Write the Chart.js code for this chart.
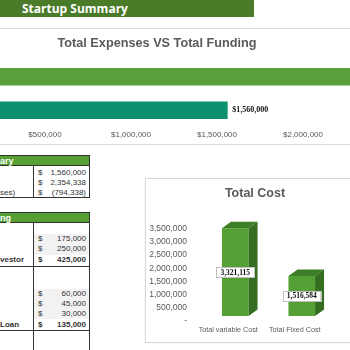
<!DOCTYPE html>
<html>
<head>
<meta charset="utf-8">
<script src="https://cdn.jsdelivr.net/npm/chart.js@4.4.1/dist/chart.umd.min.js"></script>
<style>
  html, body { margin:0; padding:0; width:350px; height:350px; overflow:hidden; background:#fff; font-family:"Liberation Sans", Arial, sans-serif; }
  .abs { position:absolute; }
  #banner { left:0; top:0; width:254px; height:17px; background:#4a7b29; color:#fff; font:bold 12px "Open Sans", sans-serif; line-height:17px; }
  #banner span { position:absolute; left:22px; top:0; }
  #box1 { left:-5px; top:28px; width:360px; height:115px; border:1px solid #d9d9d9; }
  #c1wrap { left:-41px; top:28px; width:430px; height:116px; }
  #box2 { left:145px; top:178px; width:220px; height:163px; border:1px solid #d9d9d9; box-shadow:0 0 2px rgba(0,0,0,0.08); background:#fff; }
  #c2wrap { left:146px; top:179px; width:220px; height:163px; }
  .ctitle { color:#595959; font:bold 12.7px "Liberation Sans", Arial, sans-serif; text-align:center; white-space:nowrap; }
  .hdr { background:#56a033; color:#fff; font-weight:bold; font-size:9px; line-height:11px; height:11px; border:1px solid #333; border-left:none; box-sizing:border-box; }
  .cell { font-size:8px; line-height:10px; height:10px; color:#333; white-space:nowrap; }
  .vl { background:#333; width:1px; }
  .hl { background:#333; height:1px; }
  .gray { background:#f2f2f2; }
</style>
</head>
<body>
<div id="banner" class="abs"><span>Startup Summary</span></div>
<div id="box1" class="abs"></div>
<div id="c1wrap" class="abs"><canvas id="c1" width="430" height="116"></canvas></div>
<div class="abs ctitle" style="left:57px;width:200px;top:35px;line-height:16px;">Total Expenses VS Total Funding</div>

<!-- Table 1 -->
<div class="abs hdr" style="left:0;top:155px;width:90px;"><span style="position:absolute;left:0;">ary</span></div>
<div class="abs vl" style="left:33px;top:166px;height:31px;"></div>
<div class="abs vl" style="left:89px;top:166px;height:31px;"></div>
<div class="abs hl" style="left:0;top:197px;width:90px;"></div>
<div id="t1" class="abs" style="left:0;top:0;"></div>

<!-- Table 2 -->
<div class="abs hdr" style="left:0;top:212px;width:90px;"><span style="position:absolute;left:0;">ng</span></div>
<div class="abs gray" style="left:34px;top:234px;width:55px;height:21px;"></div>
<div class="abs gray" style="left:34px;top:289px;width:55px;height:30px;"></div>
<div class="abs vl" style="left:33px;top:222px;height:130px;"></div>
<div class="abs vl" style="left:89px;top:222px;height:130px;"></div>
<div class="abs hl" style="left:0;top:266px;width:90px;"></div>
<div class="abs hl" style="left:0;top:330px;width:90px;"></div>
<div id="t2" class="abs" style="left:0;top:0;"></div>

<div id="box2" class="abs"></div>
<div id="c2wrap" class="abs"><canvas id="c2" width="220" height="163"></canvas></div>
<div class="abs ctitle" style="left:205px;width:100px;top:185px;line-height:16px;font-size:12.5px;">Total Cost</div>

<script>
// ---------- DATA ----------
const fundCategories = ['Total Funding', 'Total Expenses'];
const fundValues = [2354338, 1560000];

const costCategories = ['Total variable Cost', 'Total Fixed Cost'];
const costValues = [3321115, 1516584];

const summaryLabels = ['', '', 'ses)'];
const summaryValues = ['1,560,000', '2,354,338', '(794,338)'];

const fundingRowLabels = ['', '', 'vestor'];
const fundingRowValues = ['175,000', '250,000', '425,000'];

const loanRowLabels = ['', '', '', 'Loan'];
const loanRowValues = ['60,000', '45,000', '30,000', '135,000'];

// ---------- TABLE TEXT ----------
function rows(container, labels, values, startY, boldLast) {
  const el = document.getElementById(container);
  labels.forEach((lab, i) => {
    const last = boldLast && i === labels.length - 1;
    const y = startY + i * 10 + (last ? 1 : 0);
    const bold = last ? 'font-weight:bold;' : '';
    el.insertAdjacentHTML('beforeend',
      `<div class="abs cell" style="left:0;top:${y}px;${bold}">${lab}</div>` +
      `<div class="abs cell" style="left:38px;top:${y}px;${bold}">$</div>` +
      `<div class="abs cell" style="left:40px;width:46px;text-align:right;top:${y}px;${bold}">${values[i]}</div>`);
  });
}
rows('t1', summaryLabels, summaryValues, 168, false);
rows('t2', fundingRowLabels, fundingRowValues, 234, true);
rows('t2', loanRowLabels, loanRowValues, 289, true);
</script>
<script>
const fmt = v => v.toLocaleString('en-US');
const gray = '#595959';
const noPad = (s) => { s.paddingLeft = 0; s.paddingRight = 0; };

// ---------- CHART 1: horizontal bars ----------
const barLabelPlugin = {
  id: 'barLabel',
  afterDatasetsDraw(chart) {
    const ctx = chart.ctx;
    const meta = chart.getDatasetMeta(0);
    ctx.save();
    ctx.font = 'bold 8px "Liberation Serif", serif';
    ctx.fillStyle = '#111';
    ctx.textBaseline = 'middle';
    meta.data.forEach((bar, i) => {
      ctx.fillText('$' + fmt(fundValues[i]), bar.x + 5, bar.y);
    });
    ctx.restore();
  }
};

new Chart(document.getElementById('c1'), {
  type: 'bar',
  data: {
    labels: fundCategories,
    datasets: [{
      data: fundValues,
      backgroundColor: (c) => {
        if (c.dataIndex === 1) return '#0e8f6f';
        const el = c.element;
        if (!el || !Number.isFinite(el.y)) return '#5a9f3a';
        const g = c.chart.ctx.createLinearGradient(0, el.y - 9, 0, el.y + 9);
        g.addColorStop(0, '#66ad44');
        g.addColorStop(1, '#4d9030');
        return g;
      },
      borderWidth: 0,
      barThickness: 17
    }]
  },
  options: {
    indexAxis: 'y',
    responsive: false,
    animation: false,
    layout: { padding: { left: 0, right: 0, top: 32, bottom: 0 } },
    plugins: { legend: { display: false }, tooltip: { enabled: false }, title: { display: false } },
    scales: {
      y: { display: false },
      x: {
        min: 0, max: 2500000,
        grid: { display: false, drawTicks: false },
        border: { display: false },
        afterFit: (s) => { noPad(s); s.height = 17; },
        ticks: {
          stepSize: 500000,
          padding: 3,
          color: gray,
          font: { family: '"Liberation Sans", Arial, sans-serif', size: 8 },
          callback: (v) => v === 0 ? '' : '$' + fmt(v)
        }
      }
    }
  },
  plugins: [barLabelPlugin]
});

// ---------- CHART 2: 3D-look columns ----------
const depthPlugin = {
  id: 'depth3d',
  afterDatasetsDraw(chart) {
    const ctx = chart.ctx;
    const meta = chart.getDatasetMeta(0);
    const dx = 9, dy = 6.5;
    ctx.save();
    meta.data.forEach((bar) => {
      const l = bar.x - bar.width / 2, r = bar.x + bar.width / 2;
      const t = bar.y, b = bar.base;
      ctx.fillStyle = '#3d7f26';
      ctx.beginPath();
      ctx.moveTo(l, t); ctx.lineTo(r, t); ctx.lineTo(r + dx, t - dy); ctx.lineTo(l + dx, t - dy); ctx.closePath();
      ctx.fill();
      ctx.fillStyle = '#346e20';
      ctx.beginPath();
      ctx.moveTo(r, t); ctx.lineTo(r + dx, t - dy); ctx.lineTo(r + dx, b - dy); ctx.lineTo(r, b); ctx.closePath();
      ctx.fill();
    });
    ctx.font = 'bold 7.5px "Liberation Serif", serif';
    ctx.textAlign = 'center';
    ctx.textBaseline = 'middle';
    meta.data.forEach((bar, i) => {
      const txt = fmt(costValues[i]);
      const w = ctx.measureText(txt).width + 8;
      const h = 10;
      const cy = (bar.y + bar.base) / 2;
      ctx.fillStyle = '#fff';
      ctx.fillRect(bar.x - w / 2, cy - h / 2, w, h);
      ctx.strokeStyle = '#bfbfbf';
      ctx.lineWidth = 1;
      ctx.strokeRect(Math.round(bar.x - w / 2) + 0.5, Math.round(cy - h / 2) + 0.5, Math.round(w), h);
      ctx.fillStyle = '#111';
      ctx.fillText(txt, bar.x, cy + 0.5);
    });
    ctx.restore();
  }
};

new Chart(document.getElementById('c2'), {
  type: 'bar',
  data: {
    labels: costCategories,
    datasets: [{
      data: costValues,
      backgroundColor: '#55a034',
      borderWidth: 0,
      barPercentage: 0.4,
      categoryPercentage: 1.0
    }]
  },
  options: {
    responsive: false,
    animation: false,
    layout: { padding: { left: 0, right: 31, top: 44.6, bottom: 0 } },
    plugins: { legend: { display: false }, tooltip: { enabled: false }, title: { display: false } },
    scales: {
      y: {
        min: 0, max: 3500000,
        grid: { display: false, drawTicks: false },
        border: { display: false },
        afterFit: (s) => { s.width = 56; },
        ticks: {
          stepSize: 500000,
          autoSkip: false,
          padding: 15,
          labelOffset: 5,
          color: gray,
          font: { family: '"Liberation Sans", Arial, sans-serif', size: 8.5 },
          callback: (v) => v === 0 ? '-' : fmt(v)
        }
      },
      x: {
        grid: { display: false, drawTicks: false },
        border: { display: false },
        afterFit: (s) => { noPad(s); s.height = 26; },
        ticks: {
          autoSkip: false,
          maxRotation: 0,
          minRotation: 0,
          padding: 10,
          labelOffset: -7,
          color: gray,
          font: { family: '"Liberation Sans", Arial, sans-serif', size: 7.2 }
        }
      }
    }
  },
  plugins: [depthPlugin]
});
</script>
</body>
</html>
